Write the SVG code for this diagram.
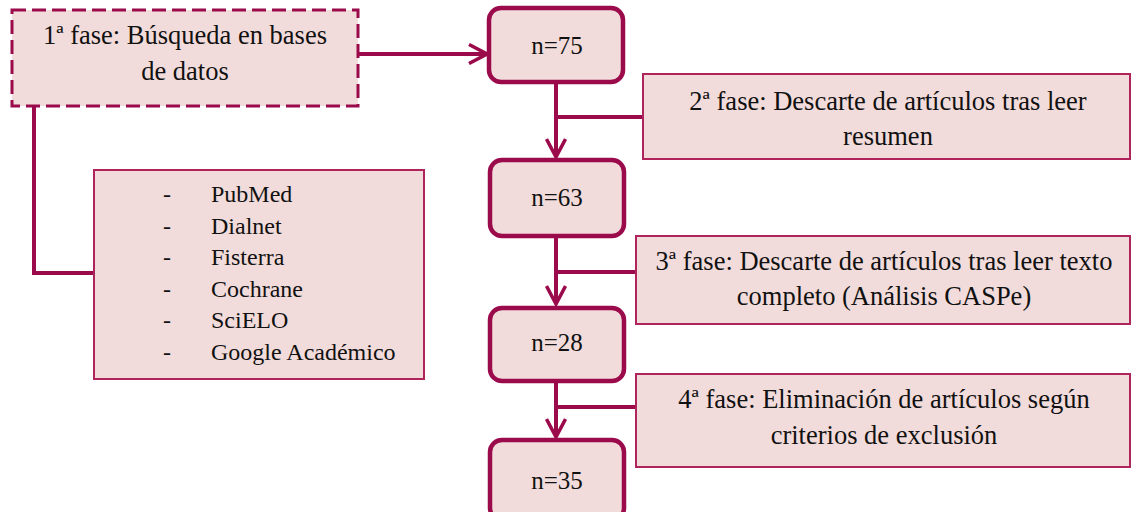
<svg xmlns="http://www.w3.org/2000/svg" width="1131" height="512" viewBox="0 0 1131 512">
<defs>
<style>
text{font-family:'Liberation Serif','DejaVu Serif',serif;fill:#111}
.t{font-size:26.5px;text-anchor:middle}
.m{font-size:25px;text-anchor:middle}
.l{font-size:24px}
.n{fill:#f2dcdb;stroke:#9b0a4b;stroke-width:4.5}
.p{fill:#f2dcdb;stroke:#b0245c;stroke-width:2}
.c{fill:none;stroke:#9b0a4b;stroke-width:4}
</style>
<marker id="ah" markerWidth="22" markerHeight="22" refX="19" refY="11" orient="auto" markerUnits="userSpaceOnUse">
<path d="M1,1.5 L19,11 L1,20.5" fill="none" stroke="#9b0a4b" stroke-width="3.5"/>
</marker>
</defs>
<g id="connectors">
<path class="c" d="M358,54 H487" marker-end="url(#ah)"/>
<path class="c" d="M34,106 V273 H94"/>
<path class="c" d="M556,82 V157" marker-end="url(#ah)"/>
<path class="c" d="M556,117 H643"/>
<path class="c" d="M556,236 V304" marker-end="url(#ah)"/>
<path class="c" d="M556,272 H636"/>
<path class="c" d="M556,381 V437" marker-end="url(#ah)"/>
<path class="c" d="M556,407 H636"/>
</g>
<g id="fase1">
<rect x="12" y="10" width="346" height="96" fill="#f2dcdb" stroke="#9b0a4b" stroke-width="3" stroke-dasharray="14,6"/>
<text class="t" x="185" y="44">1ª fase: Búsqueda en bases</text>
<text class="t" x="185" y="80">de datos</text>
</g>
<g id="bases">
<rect class="p" x="94" y="170" width="330" height="209"/>
<text class="l" x="163" y="202">-</text><text class="l" x="211" y="202">PubMed</text>
<text class="l" x="163" y="234">-</text><text class="l" x="211" y="234">Dialnet</text>
<text class="l" x="163" y="265">-</text><text class="l" x="211" y="265">Fisterra</text>
<text class="l" x="163" y="297">-</text><text class="l" x="211" y="297">Cochrane</text>
<text class="l" x="163" y="328">-</text><text class="l" x="211" y="328">SciELO</text>
<text class="l" x="163" y="360">-</text><text class="l" x="211" y="360">Google Académico</text>
</g>
<g id="n75">
<rect class="n" x="489" y="8" width="134" height="74" rx="12"/>
<text class="m" x="557" y="54">n=75</text>
</g>
<g id="fase2">
<rect class="p" x="643" y="74" width="487" height="85"/>
<text class="t" x="888" y="110">2ª fase: Descarte de artículos tras leer</text>
<text class="t" x="888" y="145">resumen</text>
</g>
<g id="n63">
<rect class="n" x="490" y="160" width="134" height="76" rx="12"/>
<text class="m" x="557" y="206">n=63</text>
</g>
<g id="fase3">
<rect class="p" x="636" y="236" width="494" height="88"/>
<text class="t" x="884" y="270">3ª fase: Descarte de artículos tras leer texto</text>
<text class="t" x="884" y="305">completo (Análisis CASPe)</text>
</g>
<g id="n28">
<rect class="n" x="490" y="308" width="134" height="73" rx="12"/>
<text class="m" x="557" y="351">n=28</text>
</g>
<g id="fase4">
<rect class="p" x="636" y="374" width="494" height="93"/>
<text class="t" x="884" y="408">4ª fase: Eliminación de artículos según</text>
<text class="t" x="884" y="444">criterios de exclusión</text>
</g>
<g id="n35">
<rect class="n" x="490" y="440" width="134" height="80" rx="12"/>
<text class="m" x="557" y="489">n=35</text>
</g>
</svg>
